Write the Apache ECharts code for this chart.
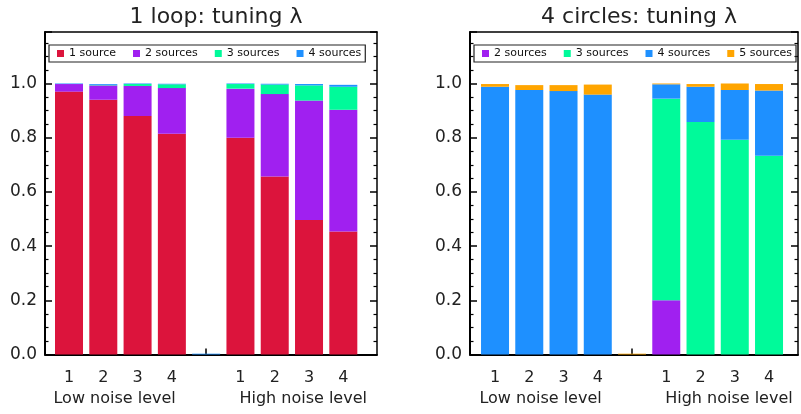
<!DOCTYPE html>
<html><head><meta charset="utf-8">
<script src="https://cdn.jsdelivr.net/npm/echarts@6/dist/echarts.min.js"></script>
<style>html,body{margin:0;padding:0;background:#fff}#c{width:801px;height:414px}</style>
</head><body><div id="c"></div>
<script>
// ---- data ----
const tickLabels = ['1', '2', '3', '4', '', '1', '2', '3', '4'];
const groupLabels = ['Low noise level', 'High noise level'];
const groupLabelPositions = [1.33, 6.83];
const yTicks = [0, 0.2, 0.4, 0.6, 0.8, 1.0];
const titles = ['1 loop: tuning \u03bb', '4 circles: tuning \u03bb'];

const loopNames = ['1 source', '2 sources', '3 sources', '4 sources'];
const loop1source = [0.970, 0.940, 0.880, 0.815, 0, 0.800, 0.657, 0.496, 0.454];
const loop2sources = [0.028, 0.053, 0.111, 0.168, 0, 0.181, 0.304, 0.441, 0.449];
const loop3sources = [0.000, 0.002, 0.007, 0.014, 0, 0.017, 0.035, 0.056, 0.085];
const loop4sources = [0.002, 0.003, 0.002, 0.002, 0.003, 0.002, 0.003, 0.005, 0.007];

const circleNames = ['2 sources', '3 sources', '4 sources', '5 sources'];
const circ2sources = [0, 0, 0, 0, 0, 0.200, 0, 0, 0];
const circ3sources = [0, 0, 0, 0, 0, 0.744, 0.858, 0.792, 0.733];
const circ4sources = [0.988, 0.976, 0.972, 0.959, 0, 0.053, 0.130, 0.184, 0.241];
const circ5sources = [0.010, 0.018, 0.022, 0.037, 0.003, 0.003, 0.010, 0.024, 0.024];

// ---- styling ----
const colorOf = {
  '1 source': '#DC143C', '2 sources': '#A020F0', '3 sources': '#00FA9A',
  '4 sources': '#1E90FF', '5 sources': '#FFA500'
};
const FONT = 'DejaVu Sans';
const TXT = '#222';
const TOP = 32, HEIGHT = 322.5, YMAX = 1.19;
const panels = [
  { frame: { left: 45, width: 332 }, bars: { left: 51.86, width: 308.6 }, legendLeft: 49,
    names: loopNames, values: [loop1source, loop2sources, loop3sources, loop4sources] },
  { frame: { left: 470, width: 328 }, bars: { left: 477.9, width: 308.25 }, legendLeft: 474,
    names: circleNames, values: [circ2sources, circ3sources, circ4sources, circ5sources] }
];

const option = { backgroundColor: '#fff', animation: false, title: [], legend: [], grid: [], xAxis: [], yAxis: [], series: [] };
panels.forEach((p, i) => {
  const gFrame = option.grid.length;
  option.grid.push({ left: p.frame.left, width: p.frame.width, top: TOP, height: HEIGHT });
  const gBars = option.grid.length;
  option.grid.push({ left: p.bars.left, width: p.bars.width, top: TOP, height: HEIGHT });

  option.title.push({
    text: titles[i], left: p.frame.left + p.frame.width / 2, top: 1, textAlign: 'center',
    textStyle: { fontFamily: FONT, fontSize: 22, fontWeight: 'normal', color: TXT }
  });
  option.legend.push({
    data: p.names, left: p.legendLeft, top: 45, width: 340, orient: 'horizontal',
    icon: 'rect', itemWidth: 7, itemHeight: 7, itemGap: 17,
    padding: [3, 4, 3, 8], borderColor: '#222', borderWidth: 1.2,
    textStyle: { fontFamily: FONT, fontSize: 11, color: '#111' }
  });

  // ---- frame axes ----
  const xF = { type: 'value', gridIndex: gFrame, min: 0, max: 1, splitLine: { show: false },
               axisTick: { show: false }, axisLabel: { show: false } };
  option.xAxis.push(Object.assign({}, xF, { position: 'bottom',
    axisLine: { show: true, onZero: false, lineStyle: { color: '#000', width: 2 } } }));
  option.xAxis.push(Object.assign({}, xF, { position: 'top',
    axisLine: { show: true, onZero: false, lineStyle: { color: '#000', width: 1.5 } } }));
  const yF = { type: 'value', gridIndex: gFrame, min: 0, max: YMAX, interval: 0.2, splitLine: { show: false } };
  option.yAxis.push(Object.assign({}, yF, {
    position: 'left',
    axisLine: { show: true, onZero: false, lineStyle: { color: '#000', width: 2 } },
    axisTick: { show: true, inside: true, length: 7, lineStyle: { color: '#000', width: 1.5 } },
    minorTick: { show: true, splitNumber: 4, length: 3.5, lineStyle: { color: '#000', width: 1.2 } },
    axisLabel: {
      showMaxLabel: false, margin: 8, fontFamily: FONT, fontSize: 17, color: TXT,
      formatter: v => yTicks.some(t => Math.abs(t - v) < 1e-6) ? v.toFixed(1) : ''
    }
  }));
  option.yAxis.push(Object.assign({}, yF, {
    position: 'right',
    axisLine: { show: true, onZero: false, lineStyle: { color: '#000', width: 1.5 } },
    axisTick: { show: true, inside: true, length: 7, lineStyle: { color: '#000', width: 1.5 } },
    minorTick: { show: true, splitNumber: 4, length: 3.5, lineStyle: { color: '#000', width: 1.2 } },
    axisLabel: { show: false }
  }));

  // ---- bar axes ----
  const xBarIdx = option.xAxis.length;
  option.xAxis.push({
    type: 'category', gridIndex: gBars, data: tickLabels, position: 'bottom', boundaryGap: true,
    axisLine: { show: false },
    axisTick: { show: true, inside: true, alignWithLabel: true, interval: 0, length: 6,
                lineStyle: { color: '#000', width: 1.5 } },
    axisLabel: { interval: 0, margin: 12, padding: [3, 0, 0, 0], fontFamily: FONT, fontSize: 16, color: TXT },
    splitLine: { show: false }
  });
  option.xAxis.push({
    type: 'value', gridIndex: gBars, min: -0.5, max: 8.5, position: 'bottom', offset: 24,
    axisLine: { show: false }, axisTick: { show: false }, splitLine: { show: false },
    axisLabel: {
      customValues: groupLabelPositions,
      formatter: v => groupLabels[groupLabelPositions.indexOf(v)] || '',
      margin: 8, padding: [4, 0, 0, 0], fontFamily: FONT, fontSize: 16, color: TXT
    }
  });
  const yBarIdx = option.yAxis.length;
  option.yAxis.push({ type: 'value', gridIndex: gBars, min: 0, max: YMAX, show: false });

  p.names.forEach((name, k) => {
    option.series.push({
      type: 'bar', name: name, stack: 'panel' + i,
      xAxisIndex: xBarIdx, yAxisIndex: yBarIdx,
      barWidth: 28, itemStyle: { color: colorOf[name] },
      data: p.values[k]
    });
  });
});

const chart = echarts.init(document.getElementById('c'), null, { renderer: 'canvas' });
chart.setOption(option);
</script>
</body></html>
